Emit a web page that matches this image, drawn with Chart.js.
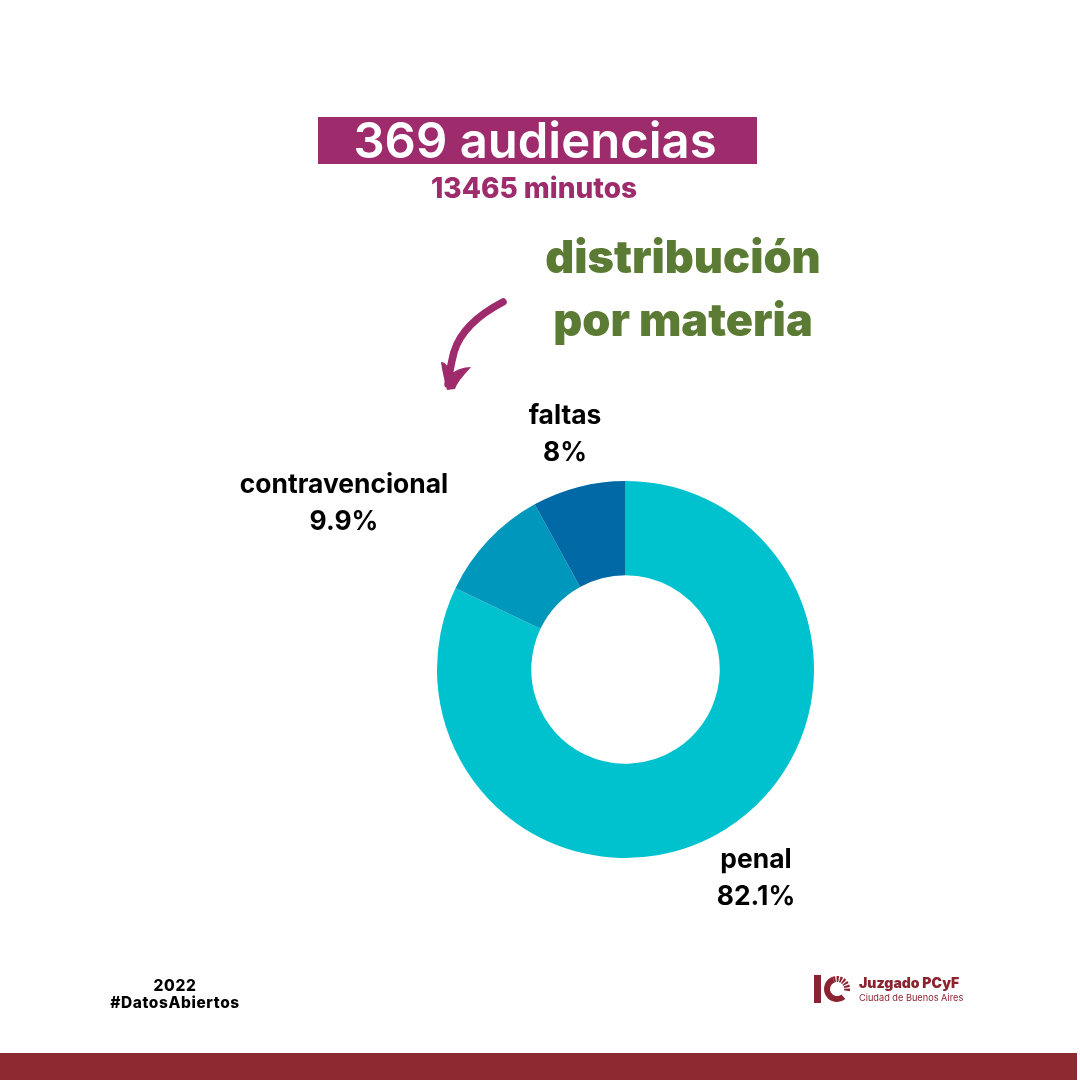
<!DOCTYPE html>
<html><head><meta charset="utf-8">
<script src="https://cdn.jsdelivr.net/npm/chart.js@4"></script>
<style>
html,body{margin:0;padding:0;background:#fff;width:1080px;height:1080px;overflow:hidden}
body{position:relative;font-family:Inter,Lato,sans-serif}
.t{position:absolute;white-space:nowrap;text-align:center;transform:translateX(-50%);will-change:transform}
#wrap{position:absolute;left:425px;top:469px;width:400px;height:400px}
.lab{font-weight:700;font-size:26.4px;line-height:37px;color:#000}
</style></head><body>
<div style="position:absolute;left:318px;top:117px;width:439px;height:47px;background:#9E2B6B"></div>
<div class="t" style="left:535px;top:111px;font-size:49px;line-height:60px;font-weight:600;color:#fff" id="title">369 audiencias</div>
<div class="t" style="left:534px;top:171px;font-size:28px;line-height:34px;font-weight:800;color:#9E2B6B">13465 minutos</div>
<div class="t" style="left:683px;top:225px;font-size:45px;line-height:63px;font-weight:900;color:#5B7A34">distribución<br>por materia</div>
<svg style="position:absolute;left:0;top:0" width="1080" height="1080">
<path d="M503 302 C478 315 460 332 454 352 C451 364 449 374 448 384" fill="none" stroke="#9E2B6B" stroke-width="7.5" stroke-linecap="round"/>
<path d="M441 362 C446 362 449 368 451 374 C456 370 463 367 471 367 C465 374 458 381 455 389 L447 390 C445 381 442 372 441 362Z" fill="#9E2B6B"/>
<rect x="814" y="975" width="7" height="28" fill="#8B2331"/>
<path d="M833.6 979.6 A10 10 0 1 0 843.4 996.7" fill="none" stroke="#8B2331" stroke-width="6"/>
<path d="M833.6 979.6 A10 10 0 0 1 846.7 991.6" fill="none" stroke="#8B2331" stroke-width="6" stroke-dasharray="2 1.1"/>
<rect x="0" y="1053" width="1077" height="27" fill="#8C2A2F"/>
</svg>
<div id="wrap"><canvas id="c"></canvas></div>
<div id="l0" class="t lab" style="left:756px;top:840px"></div>
<div id="l1" class="t lab" style="left:344px;top:465px"></div>
<div id="l2" class="t lab" style="left:565px;top:396px"></div>
<div class="t" style="left:175px;top:977px;font-size:15.5px;letter-spacing:.6px;line-height:17px;font-weight:800;color:#000">2022<br>#DatosAbiertos</div>
<div style="position:absolute;left:859px;top:974px;font-size:14px;line-height:17px;font-weight:900;color:#8B2331;white-space:nowrap;will-change:transform">Juzgado PCyF</div>
<div style="position:absolute;left:859px;top:991px;font-size:9.2px;line-height:13px;color:#8B2331;white-space:nowrap;will-change:transform">Ciudad de Buenos Aires</div>
<script>
const categories = ["penal", "contravencional", "faltas"];
const shareValues = [82.1, 9.9, 8];
const sliceColors = ["#00C2CF", "#0097BC", "#0069A6"];

categories.forEach((name, i) => {
  document.getElementById("l" + i).innerHTML = name + "<br>" + shareValues[i] + "%";
});
new Chart(document.getElementById("c"), {
  type: "doughnut",
  data: { labels: categories, datasets: [{ data: shareValues, backgroundColor: sliceColors, borderWidth: 0 }] },
  options: {
    responsive: true, maintainAspectRatio: false, animation: false,
    cutout: "50%",
    layout: { padding: { left: 12, right: 11, top: 12, bottom: 11 } },
    plugins: { legend: { display: false }, tooltip: { enabled: false } }
  }
});
</script>
</body></html>
